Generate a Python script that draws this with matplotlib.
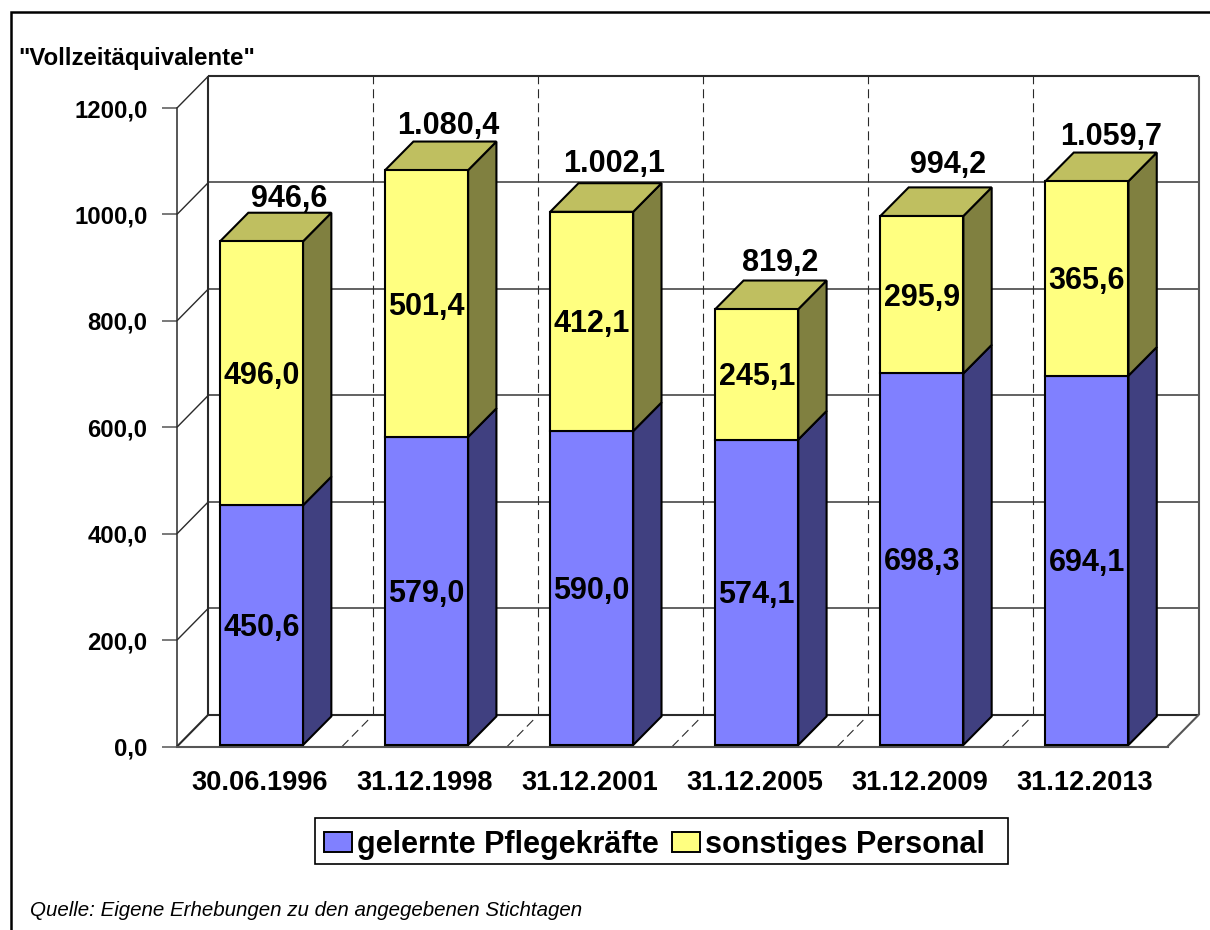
import matplotlib
matplotlib.use("Agg")
import matplotlib.pyplot as plt
from matplotlib.patches import Patch, Polygon, Rectangle
from matplotlib.ticker import FuncFormatter

plt.rcParams['font.family'] = ['Liberation Sans', 'DejaVu Sans']
plt.rcParams['lines.scale_dashes'] = False

# ---- data ----
dates = ["30.06.1996", "31.12.1998", "31.12.2001", "31.12.2005", "31.12.2009", "31.12.2013"]
pflegekraefte = [450.6, 579.0, 590.0, 574.1, 698.3, 694.1]
sonstiges = [496.0, 501.4, 412.1, 245.1, 295.9, 365.6]
gesamt_labels = ["946,6", "1.080,4", "1.002,1", "819,2", "994,2", "1.059,7"]
y_ticks = [0, 200, 400, 600, 800, 1000, 1200]

# ---- layout (pixels of the 1210x930 canvas) ----
W, H = 1210, 930
AX_L, AX_R, AX_TOP, AX_BOT = 177.0, 1167.5, 108.0, 746.5
WALL_DX, WALL_DY = 31.5, 32.0
BAR_DX, BAR_DY = 28.3, 28.6
BAR_SHIFT_X, BAR_SHIFT_Y = 2.0, 1.5
BAR_W_PX = 83.0
# per-label nudges of the totals above the bars (px right, px up from the bar's back edge)
total_nudge = [(5, 14), (-1.5, 16), (0, 19), (1, 18), (3.5, 22), (2, 16)]

BLUE, BLUE_SIDE = "#8080FF", "#404080"
YEL, YEL_SIDE, YEL_TOP = "#FFFF80", "#808040", "#BFBF60"
GRID = "#555555"
DARK = "#2a2a2a"

fig = plt.figure(figsize=(W / 100, H / 100), dpi=100, facecolor="white")
ax = fig.add_axes([AX_L / W, 1 - AX_BOT / H, (AX_R - AX_L) / W, (AX_BOT - AX_TOP) / H])
ax.set_xlim(-0.5, 5.5)
ax.set_ylim(0, 1200)
ax.patch.set_visible(False)

px_x = 6.0 / (AX_R - AX_L)
px_y = 1200.0 / (AX_BOT - AX_TOP)
wdx, wdy = WALL_DX * px_x, WALL_DY * px_y
bdx, bdy = BAR_DX * px_x, BAR_DY * px_y
sx, sy = BAR_SHIFT_X * px_x, BAR_SHIFT_Y * px_y
bw = BAR_W_PX * px_x
x0, x1 = -0.5, 5.5
lw2 = 1.5
kw = dict(clip_on=False, solid_capstyle="butt")

# back wall and floor
ax.plot([x0 + wdx, x0 + wdx], [wdy, 1200 + wdy], color=DARK, lw=lw2, zorder=1.5, **kw)
ax.plot([x0 + wdx, x1 + wdx], [1200 + wdy] * 2, color=DARK, lw=lw2, zorder=1.5, **kw)
ax.plot([x1 + wdx, x1 + wdx], [wdy, 1200 + wdy], color=GRID, lw=lw2, zorder=1.5, **kw)
ax.plot([x0 + wdx, x1 + wdx], [wdy, wdy], color=DARK, lw=lw2, zorder=1.5, **kw)
ax.plot([x1, x1 + wdx], [0, wdy], color=GRID, lw=lw2, zorder=1.5, **kw)
ax.plot([x0, x0 + wdx], [0, wdy], color=DARK, lw=lw2, zorder=1.5, **kw)

# gridlines on wall and side wall
for t in y_ticks[1:]:
    if t < 1200:
        ax.plot([x0 + wdx, x1 + wdx], [t + wdy, t + wdy], color=GRID, lw=1.3, zorder=1, **kw)
    ax.plot([x0, x0 + wdx], [t, t + wdy], color=DARK, lw=1.0, zorder=1, **kw)

# dashed category separators
for i in range(1, 6):
    xs = x0 + i
    ax.plot([xs + wdx - px_x, xs + wdx - px_x], [wdy, 1200 + wdy], color=DARK, lw=0.8,
            linestyle=(0, (6.5, 3.6)), zorder=1.2, clip_on=False)
    ax.plot([xs, xs + wdx * 0.9], [0, wdy * 0.9], color=DARK, lw=0.8,
            linestyle=(0, (6.5, 3.6)), zorder=1.2, clip_on=False)

edge = dict(edgecolor="black", linewidth=1.5, joinstyle="miter", clip_on=False)
centers = [i + sx for i in range(len(dates))]

# 3D sides and tops, built from the values
for c, a, b in zip(centers, pflegekraefte, sonstiges):
    r = c + bw / 2
    l = c - bw / 2
    m = sy + a
    t = m + b
    ax.add_patch(Polygon([(r, sy), (r + bdx, sy + bdy), (r + bdx, m + bdy), (r, m)],
                         facecolor=BLUE_SIDE, zorder=2.5, **edge))
    ax.add_patch(Polygon([(r, m), (r + bdx, m + bdy), (r + bdx, t + bdy), (r, t)],
                         facecolor=YEL_SIDE, zorder=2.5, **edge))
    ax.add_patch(Polygon([(l, t), (l + bdx, t + bdy), (r + bdx, t + bdy), (r, t)],
                         facecolor=YEL_TOP, zorder=2.5, **edge))

# front faces
ax.bar(centers, pflegekraefte, width=bw, bottom=sy, color=BLUE, zorder=3, **edge)
ax.bar(centers, sonstiges, width=bw, bottom=[sy + a for a in pflegekraefte],
       color=YEL, zorder=3, **edge)

# value labels
fmt = lambda v: f"{v:.1f}".replace(".", ",")
lab = dict(fontsize=22, fontweight="bold", ha="center", va="center", color="black", zorder=5)
for c, a, b, txt, (nx, ny) in zip(centers, pflegekraefte, sonstiges, gesamt_labels, total_nudge):
    ax.text(c, sy + a / 2 - 3 * px_y, fmt(a), **lab)
    ax.text(c, sy + a + b / 2 - 3 * px_y, fmt(b), **lab)
    ax.text(c + bdx * 0.8 + nx * px_x, sy + a + b + bdy + ny * px_y, txt, clip_on=False, **lab)

# axes furniture
for s in ("top", "right"):
    ax.spines[s].set_visible(False)
ax.spines["left"].set_color(DARK)
ax.spines["left"].set_linewidth(1.1)
ax.spines["bottom"].set_color(GRID)
ax.spines["bottom"].set_linewidth(1.5)
ax.set_yticks(y_ticks)
ax.yaxis.set_major_formatter(FuncFormatter(lambda v, p: fmt(v)))
ax.tick_params(axis="y", length=10.8, width=1.1, color=GRID, pad=10.5, labelsize=17.2)
for t in ax.get_yticklabels():
    t.set_fontweight("bold")
ax.set_xticks(range(len(dates)))
ax.set_xticklabels(dates, fontsize=19.6, fontweight="bold")
ax.tick_params(axis="x", length=0, pad=16.7)

# figure border running off the right and bottom edges
fig.add_artist(Rectangle((10.5 / W, -0.02), 1.1, 1 - 12 / H + 0.02, transform=fig.transFigure,
                         fill=False, edgecolor="black", linewidth=1.8, clip_on=False))

fig.text(18 / W, 1 - 59 / H, '"Vollzeitäquivalente"', fontsize=17.3, fontweight="bold",
         ha="left", va="center")
fig.text(30 / W, 1 - 910 / H, "Quelle: Eigene Erhebungen zu den angegebenen Stichtagen",
         fontsize=14.8, fontstyle="italic", ha="left", va="center")

# legend box and entries
fig.add_artist(Rectangle((315 / W, 1 - 864 / H), 693 / W, 46 / H, transform=fig.transFigure,
                         facecolor="white", edgecolor="black", linewidth=1.2, zorder=4))
handles = [Patch(facecolor=BLUE, edgecolor="black", linewidth=1.4, label="gelernte Pflegekräfte"),
           Patch(facecolor=YEL, edgecolor="black", linewidth=1.4, label="sonstiges Personal")]
leg = fig.legend(handles=handles, loc="center left", ncol=2,
                 bbox_to_anchor=(324 / W, 1 - 844.5 / H),
                 prop={"size": 22, "weight": "bold"},
                 frameon=False,
                 handlelength=0.9, handleheight=0.62, handletextpad=0.164,
                 columnspacing=0.46, borderpad=0, borderaxespad=0)
leg.set_zorder(5)

fig.savefig("out.png", dpi=100, facecolor="white")
